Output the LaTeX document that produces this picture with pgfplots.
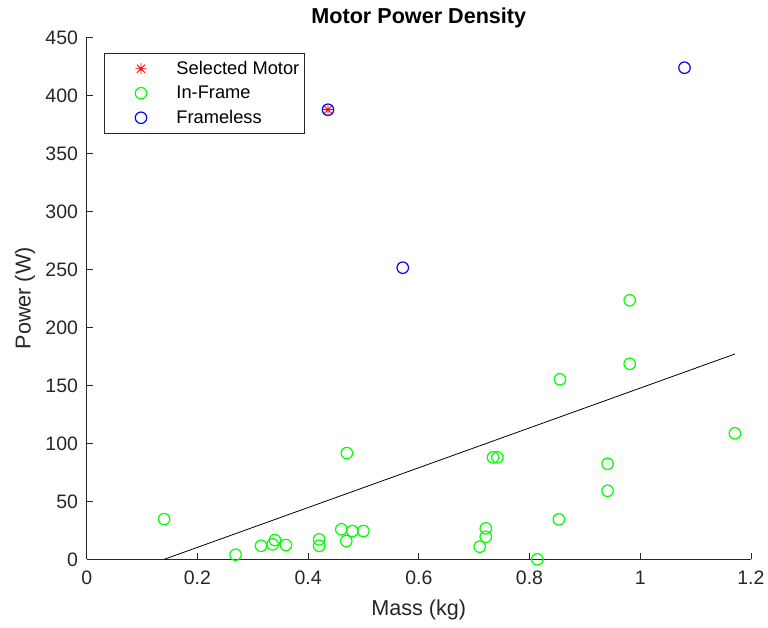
\documentclass[border=0pt]{standalone}
\usepackage{fontspec}
\setmainfont{Liberation Sans}
\usepackage{pgfplots}
\pgfplotsset{compat=1.18}
\definecolor{axgray}{gray}{0.15}
\definecolor{mgreen}{RGB}{0,255,0}
\definecolor{mblue}{RGB}{0,0,255}
\definecolor{mred}{RGB}{255,0,0}

% MATLAB style eight-armed asterisk
\pgfdeclareplotmark{mstar}{%
  \pgfpathmoveto{\pgfqpoint{-\pgfplotmarksize}{0pt}}\pgfpathlineto{\pgfqpoint{\pgfplotmarksize}{0pt}}%
  \pgfpathmoveto{\pgfqpoint{0pt}{-\pgfplotmarksize}}\pgfpathlineto{\pgfqpoint{0pt}{\pgfplotmarksize}}%
  \pgfpathmoveto{\pgfqpoint{-0.707\pgfplotmarksize}{-0.707\pgfplotmarksize}}\pgfpathlineto{\pgfqpoint{0.707\pgfplotmarksize}{0.707\pgfplotmarksize}}%
  \pgfpathmoveto{\pgfqpoint{-0.707\pgfplotmarksize}{0.707\pgfplotmarksize}}\pgfpathlineto{\pgfqpoint{0.707\pgfplotmarksize}{-0.707\pgfplotmarksize}}%
  \pgfusepathqstroke}

\begin{document}
\begin{tikzpicture}
\useasboundingbox (0,0) rectangle (576pt,471pt);
\begin{axis}[at={(65pt,51.5pt)}, anchor=south west, scale only axis,
    width=498.2pt, height=391.5pt,
    xmin=0, xmax=1.2, ymin=0, ymax=450,
    axis x line*=bottom, axis y line*=left,
    axis line style={axgray, line width=0.6pt},
    tick align=inside, major tick length=4.5pt, tick style={axgray, line width=0.6pt},
    xtick={0,0.2,0.4,0.6,0.8,1,1.2}, ytick={0,50,100,150,200,250,300,350,400,450},
    /pgf/number format/assume math mode=true,
    tick label style={font=\fontsize{14.6}{17}\selectfont, text=axgray},
    xticklabel style={yshift=-5pt},
    yticklabel style={xshift=-3pt},
    xlabel={Mass (kg)}, ylabel={Power (W)},
    label style={font=\fontsize{16.2}{19}\selectfont, text=axgray},
    xlabel style={at={(axis description cs:0.5,-0.0971)}, anchor=center},
    ylabel style={at={(axis description cs:-0.0929,0.5)}, anchor=center},
    title={Motor Power Density},
    every axis title shift=0pt,
    title style={font=\bfseries\fontsize{16.2}{19}\selectfont, at={(axis description cs:0.5,1.037)}, anchor=center},
    legend cell align=left,
    legend style={at={(0.026,0.9705)}, anchor=north west, draw=axgray, line width=0.6pt,
      font=\fontsize{13.7}{16.4}\selectfont, inner xsep=2pt, inner ysep=4pt, row sep=3.2pt},
    legend image code/.code={\path (0pt,0pt) (49.5pt,0pt);
      \draw[mark repeat=2, mark phase=2, #1] plot coordinates {(0pt,0pt) (25.2pt,0pt) (50.4pt,0pt)};},
  ]
  \addplot[only marks, mark=mstar, mark size=4.3pt, mark options={mred, line width=0.7pt}]
    coordinates {(0.436,387.6)};
  \addlegendentry{Selected Motor}
  \addplot[only marks, mark=o, mark size=4.3pt, mark options={mgreen, line width=0.9pt}]
    coordinates {
      (0.140,34.7) (0.269,4.0) (0.315,11.7) (0.336,12.9) (0.340,16.6) (0.360,12.3)
      (0.420,17.2) (0.420,11.7) (0.460,25.9) (0.469,15.8) (0.480,24.4) (0.500,24.4)
      (0.470,91.6) (0.710,10.9) (0.721,19.5) (0.721,26.7) (0.734,87.9) (0.742,87.9)
      (0.814,0) (0.853,34.5) (0.855,155.2) (0.941,59.1) (0.941,82.4) (0.981,168.6)
      (0.981,223.3) (1.171,108.6)};
  \addlegendentry{In-Frame}
  \addplot[only marks, mark=o, mark size=4.3pt, mark options={mblue, line width=0.9pt}]
    coordinates {(0.436,387.6) (0.571,251.4) (1.080,423.8)};
  \addlegendentry{Frameless}
  \addplot[black, line width=0.6pt, forget plot] coordinates {(0.14,0) (1.171,177)};
\end{axis}
\end{tikzpicture}
\end{document}
